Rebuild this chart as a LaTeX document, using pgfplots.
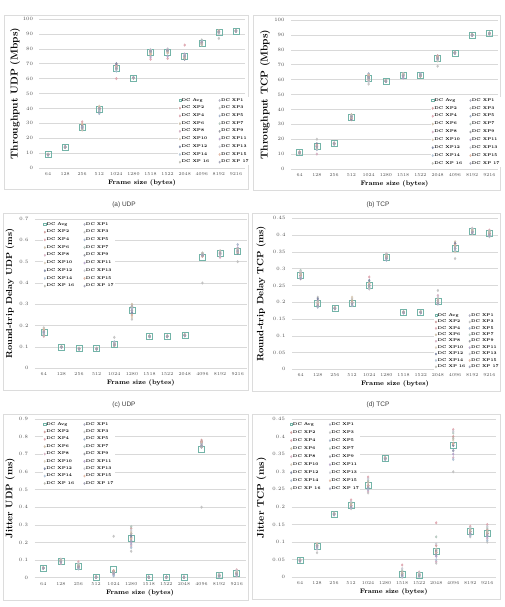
\documentclass[border=0pt]{standalone}
\usepackage{fontspec}
\usepackage{pgfplots}
\usepackage{pgfplotstable}
\pgfplotsset{compat=1.18}
\newfontfamily\capfont{Liberation Sans}

\definecolor{avgcol}{RGB}{115,180,168}
\definecolor{gridgray}{RGB}{217,217,217}
\definecolor{framegray}{RGB}{220,220,220}
\definecolor{ticktext}{RGB}{80,80,80}
\definecolor{capgray}{RGB}{60,60,60}
\definecolor{xpc1}{RGB}{170,170,190}
\definecolor{xpc2}{RGB}{205,150,150}
\definecolor{xpc3}{RGB}{190,190,190}
\definecolor{xpc4}{RGB}{220,160,170}
\definecolor{xpc5}{RGB}{160,175,200}
\definecolor{xpc6}{RGB}{200,185,160}
\definecolor{xpc7}{RGB}{175,195,185}
\definecolor{xpc8}{RGB}{210,170,190}
\definecolor{xpc9}{RGB}{150,150,160}
\definecolor{xpc10}{RGB}{215,200,180}
\definecolor{xpc11}{RGB}{180,160,200}
\definecolor{xpc12}{RGB}{120,130,160}
\definecolor{xpc13}{RGB}{200,200,210}
\definecolor{xpc14}{RGB}{170,190,210}
\definecolor{xpc15}{RGB}{225,180,160}
\definecolor{xpc16}{RGB}{185,185,175}
\definecolor{xpc17}{RGB}{160,160,180}

% x = frame-size index (64,128,...,9216), avg and the 17 runs
\pgfplotstableread{
x avg xp1 xp2 xp3 xp4 xp5 xp6 xp7 xp8 xp9 xp10 xp11 xp12 xp13 xp14 xp15 xp16 xp17
0 9.0 9.1 8.9 9.0 9.2 8.8 9.0 9.1 8.9 9.0 9.3 8.7 9.0 9.1 8.9 9.0 9.2 8.8
1 14.0 14.1 13.9 14.0 14.3 13.8 14.0 14.2 13.7 14.1 14.0 13.9 14.2 13.8 14.0 14.1 13.9 14.0
2 27.5 27.0 28.5 26.0 31.0 27.5 25.5 28.0 27.0 29.0 26.5 27.5 28.0 26.0 27.5 29.5 26.5 27.0
3 39.5 40.0 39.0 41.0 38.5 36.5 40.5 39.5 40.0 38.0 41.5 39.5 40.0 39.0 38.5 40.5 39.5 40.0
4 67.0 68.0 69.5 67.0 60.0 68.5 67.5 66.0 69.0 68.0 67.0 66.5 70.0 67.5 65.0 68.0 66.5 67.0
5 60.5 60.5 60.3 60.7 60.4 60.6 60.5 60.2 60.8 60.5 60.4 60.6 60.5 60.3 60.7 60.5 60.4 60.6
6 77.5 78.5 79.0 77.0 73.0 78.0 77.5 76.0 79.0 78.5 77.0 74.5 78.0 79.5 77.5 76.5 78.0 78.5
7 78.0 78.5 79.0 78.0 73.5 79.0 78.5 77.0 79.5 78.0 78.5 75.0 79.0 80.0 78.0 77.5 78.5 79.0
8 75.0 74.0 75.5 73.5 82.5 74.5 76.0 73.5 74.0 75.0 74.5 76.5 73.0 74.5 75.5 74.0 73.5 75.0
9 84.0 84.5 83.5 86.0 84.0 83.0 84.5 85.5 83.5 84.0 82.5 84.0 84.5 83.5 85.0 84.0 83.0 84.5
10 91.0 91.5 92.0 87.0 91.5 91.0 92.0 91.5 90.5 91.0 92.0 91.5 91.0 90.5 91.5 92.0 91.0 91.5
11 92.0 92.0 92.2 91.8 92.1 91.9 92.0 92.3 91.7 92.0 92.1 91.9 92.0 92.2 91.8 92.0 92.1 91.9
}\thrudp

\pgfplotstableread{
x avg xp1 xp2 xp3 xp4 xp5 xp6 xp7 xp8 xp9 xp10 xp11 xp12 xp13 xp14 xp15 xp16 xp17
0 11.0 11.2 10.8 11.0 11.5 10.5 11.0 11.3 10.7 11.0 11.1 10.9 11.2 10.8 11.0 11.4 10.6 11.0
1 15.0 14.0 16.0 20.0 15.5 13.0 15.0 16.5 10.0 15.0 14.5 16.0 17.0 13.5 15.0 16.0 14.0 15.0
2 17.0 17.2 16.8 17.0 17.5 16.6 17.0 17.3 16.7 17.1 16.9 17.0 17.4 16.8 17.0 17.2 16.9 17.0
3 35.0 35.5 34.0 36.0 33.0 35.0 36.5 34.5 35.0 35.5 34.0 35.5 33.5 36.0 35.0 34.5 35.5 35.0
4 61.0 62.0 63.5 57.0 61.0 64.0 60.5 62.5 59.5 61.0 63.0 60.0 62.0 58.5 61.5 62.5 60.0 61.5
5 59.0 59.2 58.8 59.0 59.3 58.7 59.0 59.1 58.9 59.0 59.2 58.8 59.0 59.1 58.9 59.0 59.2 58.8
6 63.0 63.5 64.0 61.5 63.0 62.5 64.0 63.5 62.0 63.0 63.5 61.0 63.0 64.0 62.5 63.0 63.5 62.5
7 63.0 63.0 63.5 62.5 63.0 64.0 62.0 63.5 63.0 62.5 63.0 63.5 62.5 63.0 63.5 62.5 63.0 63.0
8 74.0 75.0 76.0 69.0 74.5 75.5 74.0 73.5 76.0 75.0 72.5 74.5 75.5 73.0 74.0 75.5 74.5 74.0
9 78.0 78.2 77.8 78.0 78.5 77.5 78.0 78.3 77.7 78.0 78.2 77.8 78.0 78.4 77.6 78.0 78.1 77.9
10 90.0 90.2 89.8 90.0 90.3 89.7 90.0 90.1 89.9 90.0 90.2 89.8 90.0 90.1 89.9 90.0 90.2 89.8
11 91.0 91.2 90.8 91.0 91.3 90.7 91.0 91.1 90.9 91.0 91.2 90.8 91.0 91.1 90.9 91.0 91.2 90.8
}\thrtcp

\pgfplotstableread{
x avg xp1 xp2 xp3 xp4 xp5 xp6 xp7 xp8 xp9 xp10 xp11 xp12 xp13 xp14 xp15 xp16 xp17
0 0.170 0.175 0.160 0.190 0.150 0.170 0.180 0.165 0.155 0.170 0.185 0.160 0.175 0.170 0.165 0.180 0.155 0.170
1 0.100 0.101 0.099 0.100 0.102 0.098 0.100 0.101 0.099 0.100 0.102 0.098 0.100 0.101 0.099 0.100 0.101 0.099
2 0.092 0.093 0.091 0.092 0.094 0.090 0.092 0.093 0.091 0.092 0.094 0.090 0.092 0.093 0.091 0.092 0.093 0.091
3 0.092 0.093 0.091 0.092 0.094 0.090 0.092 0.093 0.091 0.092 0.094 0.090 0.092 0.093 0.091 0.092 0.093 0.091
4 0.115 0.112 0.118 0.145 0.110 0.115 0.108 0.112 0.120 0.105 0.115 0.118 0.110 0.112 0.125 0.108 0.114 0.110
5 0.270 0.280 0.290 0.230 0.270 0.260 0.300 0.250 0.280 0.270 0.240 0.290 0.260 0.270 0.280 0.250 0.290 0.270
6 0.150 0.151 0.149 0.150 0.152 0.148 0.150 0.151 0.149 0.150 0.152 0.148 0.150 0.151 0.149 0.150 0.151 0.149
7 0.150 0.151 0.149 0.150 0.152 0.148 0.150 0.151 0.149 0.150 0.152 0.148 0.150 0.151 0.149 0.150 0.151 0.149
8 0.155 0.156 0.154 0.155 0.158 0.152 0.155 0.156 0.154 0.155 0.157 0.153 0.155 0.156 0.154 0.155 0.156 0.154
9 0.520 0.530 0.535 0.400 0.530 0.540 0.525 0.530 0.535 0.530 0.540 0.525 0.530 0.535 0.530 0.525 0.540 0.530
10 0.540 0.540 0.545 0.525 0.540 0.550 0.535 0.545 0.520 0.540 0.550 0.535 0.540 0.545 0.535 0.540 0.550 0.540
11 0.550 0.550 0.560 0.500 0.555 0.580 0.545 0.550 0.560 0.545 0.550 0.565 0.540 0.555 0.550 0.545 0.560 0.550
}\rttudp

\pgfplotstableread{
x avg xp1 xp2 xp3 xp4 xp5 xp6 xp7 xp8 xp9 xp10 xp11 xp12 xp13 xp14 xp15 xp16 xp17
0 0.280 0.280 0.285 0.270 0.290 0.275 0.280 0.295 0.270 0.280 0.285 0.275 0.280 0.290 0.275 0.280 0.285 0.270
1 0.197 0.195 0.200 0.215 0.190 0.185 0.200 0.195 0.205 0.190 0.200 0.195 0.210 0.190 0.200 0.195 0.200 0.190
2 0.182 0.183 0.181 0.182 0.185 0.180 0.182 0.183 0.181 0.182 0.184 0.180 0.182 0.183 0.181 0.182 0.183 0.181
3 0.198 0.200 0.195 0.210 0.190 0.198 0.205 0.195 0.200 0.190 0.215 0.198 0.200 0.195 0.190 0.200 0.198 0.195
4 0.250 0.250 0.255 0.240 0.275 0.245 0.250 0.260 0.240 0.250 0.255 0.245 0.265 0.240 0.250 0.255 0.245 0.250
5 0.335 0.335 0.340 0.330 0.345 0.325 0.335 0.340 0.330 0.335 0.340 0.330 0.335 0.345 0.330 0.335 0.340 0.330
6 0.170 0.171 0.169 0.170 0.172 0.168 0.170 0.171 0.169 0.170 0.172 0.168 0.170 0.171 0.169 0.170 0.171 0.169
7 0.170 0.171 0.169 0.170 0.172 0.168 0.170 0.171 0.169 0.170 0.172 0.168 0.170 0.171 0.169 0.170 0.171 0.169
8 0.203 0.200 0.205 0.235 0.195 0.200 0.210 0.198 0.220 0.195 0.200 0.205 0.198 0.215 0.195 0.200 0.205 0.198
9 0.362 0.360 0.370 0.330 0.375 0.365 0.380 0.355 0.360 0.370 0.350 0.365 0.375 0.360 0.355 0.370 0.365 0.360
10 0.412 0.410 0.415 0.405 0.420 0.410 0.412 0.418 0.406 0.412 0.415 0.408 0.410 0.420 0.410 0.412 0.415 0.408
11 0.405 0.405 0.410 0.395 0.415 0.400 0.405 0.410 0.400 0.405 0.410 0.398 0.405 0.412 0.400 0.405 0.410 0.400
}\rtttcp

\pgfplotstableread{
x avg xp1 xp2 xp3 xp4 xp5 xp6 xp7 xp8 xp9 xp10 xp11 xp12 xp13 xp14 xp15 xp16 xp17
0 0.055 0.055 0.057 0.053 0.056 0.054 0.055 0.058 0.052 0.055 0.056 0.054 0.055 0.057 0.053 0.055 0.056 0.054
1 0.095 0.095 0.100 0.085 0.105 0.090 0.095 0.100 0.080 0.095 0.100 0.090 0.095 0.105 0.090 0.095 0.100 0.090
2 0.065 0.065 0.070 0.050 0.090 0.060 0.065 0.075 0.055 0.065 0.070 0.060 0.065 0.080 0.050 0.065 0.070 0.060
3 0.003 0.003 0.004 0.002 0.005 0.001 0.003 0.004 0.002 0.003 0.004 0.002 0.003 0.004 0.002 0.003 0.004 0.002
4 0.045 0.040 0.030 0.235 0.020 0.010 0.035 0.030 0.025 0.040 0.030 0.020 0.035 0.030 0.015 0.040 0.030 0.025
5 0.225 0.230 0.280 0.150 0.250 0.190 0.220 0.290 0.180 0.230 0.260 0.200 0.240 0.270 0.170 0.220 0.250 0.210
6 0.002 0.002 0.003 0.001 0.002 0.003 0.001 0.002 0.002 0.003 0.001 0.002 0.003 0.002 0.001 0.002 0.003 0.002
7 0.002 0.002 0.003 0.001 0.002 0.003 0.001 0.002 0.002 0.003 0.001 0.002 0.003 0.002 0.001 0.002 0.003 0.002
8 0.002 0.002 0.003 0.001 0.002 0.003 0.001 0.002 0.002 0.003 0.001 0.002 0.003 0.002 0.001 0.002 0.003 0.002
9 0.730 0.760 0.780 0.400 0.770 0.750 0.760 0.740 0.770 0.750 0.760 0.740 0.770 0.750 0.760 0.770 0.740 0.750
10 0.012 0.012 0.015 0.005 0.020 0.010 0.012 0.018 0.008 0.012 0.015 0.010 0.012 0.020 0.005 0.012 0.015 0.010
11 0.025 0.025 0.030 0.015 0.045 0.020 0.025 0.035 0.010 0.025 0.030 0.020 0.025 0.040 0.015 0.025 0.030 0.020
}\jitudp

\pgfplotstableread{
x avg xp1 xp2 xp3 xp4 xp5 xp6 xp7 xp8 xp9 xp10 xp11 xp12 xp13 xp14 xp15 xp16 xp17
0 0.048 0.048 0.050 0.046 0.049 0.047 0.048 0.050 0.046 0.048 0.049 0.047 0.048 0.050 0.046 0.048 0.049 0.047
1 0.088 0.090 0.095 0.070 0.090 0.085 0.092 0.088 0.080 0.090 0.095 0.085 0.090 0.088 0.082 0.090 0.092 0.088
2 0.180 0.180 0.182 0.178 0.181 0.179 0.180 0.183 0.177 0.180 0.181 0.179 0.180 0.182 0.178 0.180 0.181 0.179
3 0.205 0.205 0.210 0.195 0.220 0.200 0.205 0.212 0.198 0.205 0.210 0.200 0.205 0.215 0.198 0.205 0.210 0.200
4 0.262 0.260 0.270 0.240 0.285 0.255 0.260 0.275 0.245 0.260 0.270 0.250 0.260 0.280 0.250 0.260 0.270 0.255
5 0.338 0.338 0.340 0.336 0.341 0.335 0.338 0.340 0.336 0.338 0.339 0.337 0.338 0.340 0.336 0.338 0.339 0.337
6 0.010 0.010 0.015 0.000 0.035 0.005 0.010 0.020 0.002 0.010 0.012 0.005 0.008 0.025 0.003 0.010 0.012 0.006
7 0.007 0.007 0.010 0.002 0.015 0.004 0.007 0.012 0.003 0.007 0.009 0.005 0.007 0.013 0.003 0.007 0.009 0.005
8 0.075 0.070 0.090 0.040 0.155 0.060 0.075 0.115 0.045 0.070 0.080 0.060 0.075 0.095 0.050 0.070 0.080 0.065
9 0.375 0.380 0.400 0.300 0.420 0.360 0.375 0.410 0.340 0.380 0.390 0.350 0.375 0.415 0.335 0.380 0.395 0.360
10 0.130 0.130 0.135 0.115 0.145 0.125 0.130 0.140 0.120 0.130 0.135 0.125 0.130 0.140 0.118 0.130 0.135 0.125
11 0.125 0.125 0.135 0.100 0.150 0.120 0.125 0.140 0.110 0.125 0.130 0.115 0.125 0.145 0.105 0.125 0.130 0.120
}\jittcp

\pgfplotsset{
  dcpanel/.style={
    scale only axis,
    xmin=-0.5, xmax=11.5, ymin=0,
    xtick={0,...,11},
    xticklabels={64,128,256,512,1024,1280,1518,1522,2048,4096,8192,9216},
    axis line style={draw=none},
    tick style={draw=none},
    ymajorgrids,
    grid style={draw=gridgray, line width=0.45pt},
    ticklabel style={font=\fontsize{4.5}{5}\selectfont, text=ticktext},
    xticklabel style={yshift=-1pt},
    yticklabel style={xshift=-3pt, /pgf/number format/fixed, /pgf/number format/precision=2},
    scaled y ticks=false,
    xlabel={Frame size (bytes)},
    xlabel style={at={(axis description cs:0.5,0)}, anchor=center, yshift=-15pt,
      font=\fontsize{6.5}{7}\selectfont\bfseries},
    legend columns=2,
    legend cell align=left,
    legend style={draw=none, fill=white, anchor=north west, inner sep=0.5pt,
      font=\fontsize{4}{4.5}\selectfont\bfseries,
      nodes={inner sep=0.6pt}, row sep=2.2pt},
    legend image code/.code={\draw[#1] plot coordinates {(1.5pt,0pt)};},
    legend image post style={mark size=1.1pt},
    legend entries={DC Avg, DC XP1, DC XP2, DC XP3, DC XP4, DC XP5, DC XP6, DC XP7,
      DC XP8, DC XP9, DC XP10, DC XP11, DC XP12, DC XP13, DC XP14, DC XP15,
      DC XP 16, DC XP 17},
  },
  colgap/.style={legend style={/tikz/every even column/.append style={column sep=#1}}},
  avgmark/.style={only marks, mark=square, mark size=3pt, draw=avgcol,
    mark options={line width=0.55pt}},
  xpmark/.style={only marks, mark=diamond*, mark size=1.3pt, opacity=0.8},
}

% the average and the 17 runs of one table
\newcommand{\dcseries}[1]{%
  \addplot[avgmark] table[x=x, y=avg]{#1};
  \pgfplotsinvokeforeach{1,...,17}{%
    \addplot[xpmark, draw=xpc##1, fill=xpc##1] table[x=x, y=xp##1]{#1};
  }%
}

\begin{document}
\begin{tikzpicture}
\path[use as bounding box] (0pt,0pt) rectangle (505pt,-607pt);

% panel frames
\draw[framegray, line width=0.5pt] (4pt,-15pt) rectangle (248pt,-189pt);
\draw[framegray, line width=0.5pt] (253pt,-15pt) rectangle (500pt,-190pt);
\draw[framegray, line width=0.5pt] (3pt,-213pt) rectangle (248pt,-390pt);
\draw[framegray, line width=0.5pt] (252pt,-213pt) rectangle (500pt,-391pt);
\draw[framegray, line width=0.5pt] (3pt,-414pt) rectangle (248pt,-600pt);
\draw[framegray, line width=0.5pt] (252pt,-414pt) rectangle (500pt,-599pt);

% captions
\node[font=\capfont\fontsize{6.5}{7}\selectfont, text=capgray] at (124pt,-205pt) {(a) UDP};
\node[font=\capfont\fontsize{6.5}{7}\selectfont, text=capgray] at (378pt,-205pt) {(b) TCP};
\node[font=\capfont\fontsize{6.5}{7}\selectfont, text=capgray] at (124pt,-405pt) {(c) UDP};
\node[font=\capfont\fontsize{6.5}{7}\selectfont, text=capgray] at (378pt,-405pt) {(d) TCP};

% Throughput UDP
\begin{axis}[dcpanel, colgap=9pt, at={(39.5pt,-168pt)}, anchor=south west,
  width=205pt, height=149pt, ymax=100, ytick={0,10,...,100},
  ylabel={Throughput UDP (Mbps)},
  ylabel style={at={(axis description cs:-0.1195,0.5)}, rotate=0, anchor=center,
    font=\fontsize{10}{11}\selectfont\bfseries},
  legend style={at={(axis description cs:0.676,0.4765)}, row sep=2.2pt}]
\dcseries{\thrudp}
\end{axis}

% Throughput TCP
\begin{axis}[dcpanel, colgap=7pt, at={(291pt,-169pt)}, anchor=south west,
  width=207pt, height=149pt, ymax=100, ytick={0,10,...,100},
  ylabel={Throughput TCP (Mbps)},
  ylabel style={at={(axis description cs:-0.1256,0.5)}, rotate=0, anchor=center,
    font=\fontsize{10}{11}\selectfont\bfseries},
  legend style={at={(axis description cs:0.676,0.483)}, row sep=2.35pt}]
\dcseries{\thrtcp}
\end{axis}

% Round-trip delay UDP
\begin{axis}[dcpanel, colgap=9pt, at={(35pt,-368.3pt)}, anchor=south west,
  width=211.5pt, height=149.3pt, ymax=0.7, ytick={0,0.1,0.2,0.3,0.4,0.5,0.6,0.7},
  ylabel={Round-trip Delay UDP (ms)},
  ylabel style={at={(axis description cs:-0.118,0.5)}, rotate=0, anchor=center,
    font=\fontsize{8.7}{9.5}\selectfont\bfseries},
  legend style={at={(axis description cs:0.038,0.987)}, row sep=2.2pt}]
\dcseries{\rttudp}
\end{axis}

% Round-trip delay TCP
\begin{axis}[dcpanel, colgap=3pt, at={(292pt,-369.3pt)}, anchor=south west,
  width=206pt, height=151pt, ymax=0.45,
  ytick={0,0.05,0.1,0.15,0.2,0.25,0.3,0.35,0.4,0.45},
  ylabel={Round-trip Delay TCP (ms)},
  ylabel style={at={(axis description cs:-0.150,0.5)}, rotate=0, anchor=center,
    font=\fontsize{9.2}{10}\selectfont\bfseries},
  legend style={at={(axis description cs:0.690,0.379)}, row sep=0.9pt}]
\dcseries{\rtttcp}
\end{axis}

% Jitter UDP
\begin{axis}[dcpanel, colgap=9pt, at={(34.5pt,-577.7pt)}, anchor=south west,
  width=211pt, height=158.7pt, ymax=0.9,
  ytick={0,0.1,0.2,0.3,0.4,0.5,0.6,0.7,0.8,0.9},
  ylabel={Jitter UDP (ms)},
  ylabel style={at={(axis description cs:-0.116,0.5)}, rotate=0, anchor=center,
    font=\fontsize{9.5}{10.5}\selectfont\bfseries},
  legend style={at={(axis description cs:0.040,0.987)}, row sep=1.85pt}]
\dcseries{\jitudp}
\end{axis}

% Jitter TCP
\begin{axis}[dcpanel, colgap=8pt, at={(291.5pt,-577.3pt)}, anchor=south west,
  width=204.3pt, height=158.3pt, ymax=0.45,
  ytick={0,0.05,0.1,0.15,0.2,0.25,0.3,0.35,0.4,0.45},
  ylabel={Jitter TCP (ms)},
  ylabel style={at={(axis description cs:-0.147,0.5)}, rotate=0, anchor=center,
    font=\fontsize{9.8}{10.5}\selectfont\bfseries},
  legend style={at={(axis description cs:-0.01,0.987)}, row sep=2.5pt}]
\dcseries{\jittcp}
\end{axis}
\end{tikzpicture}
\end{document}
